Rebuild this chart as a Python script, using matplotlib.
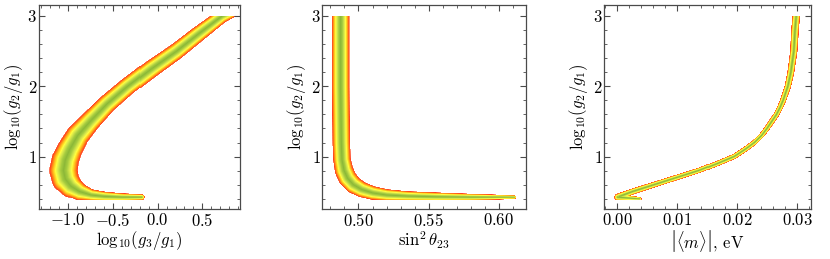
import numpy as np
import matplotlib
matplotlib.use('Agg')
import matplotlib.pyplot as plt
from matplotlib.colors import LinearSegmentedColormap
from matplotlib.ticker import MultipleLocator

# Panel 1: log10(g2/g1) vs log10(g3/g1)
p1_x = [0.80, 0.71, 0.45, 0.20, -0.08, -0.34, -0.57, -0.76, -0.90, -0.99, -1.04, -1.06,
        -1.04, -0.98, -0.88, -0.75, -0.60, -0.40, -0.19]
p1_y = [3.06, 3.00, 2.75, 2.50, 2.25, 2.00, 1.75, 1.50, 1.30, 1.10, 0.95, 0.80,
        0.68, 0.58, 0.50, 0.45, 0.43, 0.42, 0.42]
p1_spread = [7, 7, 8, 8.5, 9, 9, 9.5, 10.5, 12, 13, 14, 14.5,
             14, 12, 9, 6, 5, 4, 3]

# Panel 2: log10(g2/g1) vs sin^2(theta23)
p2_x = [0.487, 0.487, 0.4875, 0.488, 0.4895, 0.492, 0.496, 0.502, 0.510, 0.520, 0.535,
        0.555, 0.580, 0.611]
p2_y = [3.06, 2.00, 1.20, 0.95, 0.80, 0.69, 0.60, 0.53, 0.48, 0.45, 0.435, 0.425, 0.42, 0.42]
p2_spread = [9, 9, 9, 9, 9.5, 9.5, 9, 8, 7, 6, 5, 4.5, 3.5, 2]

# Panel 3: log10(g2/g1) vs |<m>|
p3_x = [0.0298, 0.0298, 0.0296, 0.0294, 0.0289, 0.0284, 0.0276, 0.0271, 0.0265, 0.0257,
        0.0249, 0.0240, 0.0228, 0.0212, 0.0194, 0.0166, 0.0136, 0.0099, 0.0062, 0.0025, 0.0003]
p3_y = [3.06, 3.00, 2.80, 2.50, 2.20, 2.00, 1.80, 1.70, 1.60, 1.50,
        1.40, 1.30, 1.20, 1.10, 1.00, 0.90, 0.80, 0.70, 0.60, 0.50, 0.43]
p3_spread = [4, 4, 4, 3.8, 3.6, 3.4, 3.2, 3.1, 3.0, 3.0,
             2.9, 2.8, 2.8, 2.8, 2.8, 2.8, 2.8, 2.9, 3.0, 3.2, 3.6]
p3_tail_x = [0.0000, 0.0037]
p3_tail_y = [0.42, 0.395]
p3_tail_spread = [3.5, 2]

y_cut = (0.375, 3.0)

# ---------------- style ----------------
plt.rcParams['font.family'] = ['cmr10', 'DejaVu Serif']
plt.rcParams['mathtext.fontset'] = 'cm'
plt.rcParams['axes.formatter.use_mathtext'] = True
plt.rcParams['axes.unicode_minus'] = True

frame_col = '#4a4a4a'
cmap = LinearSegmentedColormap.from_list('band', [
    (0.00, '#ff9a80'),
    (0.05, '#ff4020'),
    (0.18, '#ff8a18'),
    (0.32, '#ffd020'),
    (0.45, '#ffff40'),
    (0.60, '#d8e84c'),
    (0.80, '#a6cc40'),
    (1.00, '#8cb838'),
])
cmap.set_bad((1, 1, 1, 0))

W_FIG, H_FIG = 830, 259
fig = plt.figure(figsize=(W_FIG / 100, H_FIG / 100), dpi=100)

boxes = [(38.5, 240.0), (322.0, 525.5), (604.0, 810.5)]
top_px, bot_px = 5.0, 209.0
xlims = [(-1.33, 0.92), (0.474, 0.619), (-0.0022, 0.0322)]
ylim = (0.258, 3.152)
ylabel = r'$\mathrm{log}_{10}(g_2/g_1)$'
xlabels = [r'$\mathrm{log}_{10}(g_3/g_1)$', r'$\sin^2\theta_{23}$',
           r'$\left|\langle m\rangle\right|$, eV']
xmajor = [0.5, 0.05, 0.01]
xminor = [0.1, 0.01, 0.002]


def band(xlim, W, H, curves):
    x0, x1 = xlim
    y0, y1 = ylim
    nx, ny = int(W), int(H)
    gx = np.linspace(x0, x1, nx)
    gy = np.linspace(y0, y1, ny)
    X, Y = np.meshgrid(gx, gy)
    PX = (X - x0) / (x1 - x0) * W
    PY = (Y - y0) / (y1 - y0) * H
    best = np.full(X.shape, np.inf)
    for xs, ys, ws in curves:
        cx = (np.asarray(xs) - x0) / (x1 - x0) * W
        cy = (np.asarray(ys) - y0) / (y1 - y0) * H
        for i in range(len(cx) - 1):
            ax_, ay_, bx, by = cx[i], cy[i], cx[i + 1], cy[i + 1]
            dx, dy = bx - ax_, by - ay_
            L2 = dx * dx + dy * dy
            t = np.clip(((PX - ax_) * dx + (PY - ay_) * dy) / L2, 0, 1)
            d = np.hypot(PX - (ax_ + t * dx), PY - (ay_ + t * dy))
            h = ws[i] + t * (ws[i + 1] - ws[i])
            best = np.minimum(best, d / h)
    v = 1.0 - best
    mask = (v <= 0) | (Y > y_cut[1]) | (Y < y_cut[0])
    return np.ma.masked_array(v, mask=mask)


panel_curves = [
    [(p1_x, p1_y, p1_spread)],
    [(p2_x, p2_y, p2_spread)],
    [(p3_x, p3_y, p3_spread), (p3_tail_x, p3_tail_y, p3_tail_spread)],
]

for k in range(3):
    l, r = boxes[k]
    ax = fig.add_axes([l / W_FIG, 1 - bot_px / H_FIG, (r - l) / W_FIG, (bot_px - top_px) / H_FIG])
    W, H = r - l, bot_px - top_px
    field = band(xlims[k], W, H, panel_curves[k])
    ax.imshow(field, extent=[xlims[k][0], xlims[k][1], ylim[0], ylim[1]], origin='lower',
              aspect='auto', cmap=cmap, vmin=0, vmax=1, interpolation='nearest')
    ax.set_xlim(*xlims[k])
    ax.set_ylim(*ylim)
    ax.xaxis.set_major_locator(MultipleLocator(xmajor[k]))
    ax.xaxis.set_minor_locator(MultipleLocator(xminor[k]))
    ax.yaxis.set_major_locator(MultipleLocator(1))
    ax.yaxis.set_minor_locator(MultipleLocator(0.2))
    ax.tick_params(which='both', direction='in', top=True, right=True, color=frame_col,
                   labelsize=12)
    ax.tick_params(axis='x', which='both', pad=2.5)
    ax.tick_params(axis='y', which='both', pad=1)
    ax.tick_params(which='major', length=4, width=0.8)
    ax.tick_params(which='minor', length=2, width=0.6)
    for s in ax.spines.values():
        s.set_color(frame_col)
        s.set_linewidth(0.9)
    ax.set_xlabel(xlabels[k], fontsize=12, labelpad=0)
    ax.set_ylabel(ylabel, fontsize=12, labelpad=2)

fig.savefig('out.png', dpi=100)
